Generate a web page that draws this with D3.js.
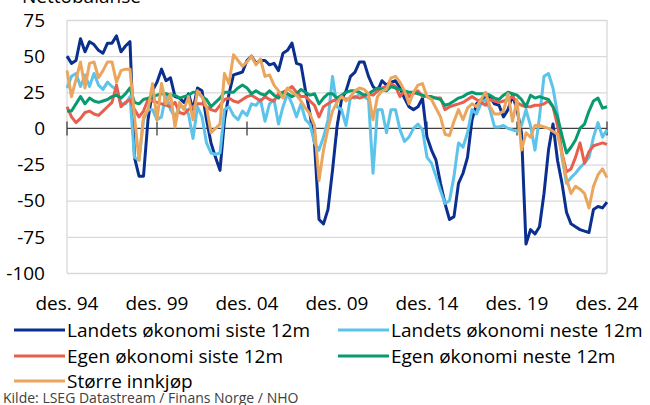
<!DOCTYPE html>
<html>
<head>
<meta charset="utf-8">
<script src="https://cdn.jsdelivr.net/npm/d3@7/dist/d3.min.js"></script>
<style>
  body { margin: 0; background: #fff; }
  text { font-family: "Open Sans", sans-serif; fill: #000; }
</style>
</head>
<body>
<svg id="chart" width="650" height="405"></svg>
<script>
// quarterly values, des. 94 .. des. 24
var landetsSiste = [
  50,45,47,62,53,60,58,54,52,59,59,64,53,57,60,
  -20,-33,-33,6,26,32,41,33,35,22,
  21,18,24,13,28,26,6,-10,-20,-29,
  6,24,37,38,39,47,50,45,47,47,
  44,45,40,52,54,59,45,44,26,10,
  -10,-63,-66,-56,-29,1,20,26,36,39,
  46,46,36,29,26,33,30,32,33,28,
  21,15,13,15,21,-6,-15,-22,-38,-52,
  -63,-61,-38,-31,-20,6,17,20,22,22,
  17,16,8,13,23,13,-3,-80,-70,-73,
  -68,-45,-15,3,-22,-38,-58,-66,-68,-70,
  -71,-72,-56,-54,-55,-51
];
var landetsNeste = [
  28,36,38,29,37,29,38,30,27,32,29,27,17,17,22,
  -20,-22,6,13,13,6,8,24,13,8,
  15,15,10,-7,15,8,-10,-17,-18,-17,
  13,15,9,6,12,9,17,16,20,5,
  17,20,3,15,24,17,8,17,6,3,
  -10,-15,-6,6,36,15,13,2,22,21,
  24,22,20,-31,13,13,-3,13,13,-1,
  -9,-6,0,3,-1,-20,-24,-33,-43,-52,
  -50,-33,-10,-13,-3,13,10,17,20,13,
  1,1,2,0,-1,-2,2,13,2,-15,
  8,36,38,28,10,-20,-38,-34,-31,-27,
  -24,-20,-6,4,-6,-1
];
var egenSiste = [
  15,8,4,7,11,12,10,9,12,15,18,30,15,18,20,
  13,8,12,20,19,18,17,16,15,18,
  11,10,13,15,17,17,15,13,12,16,
  20,21,19,18,20,22,23,21,19,22,
  20,19,24,25,27,29,25,22,22,19,
  16,8,15,17,19,20,22,20,21,22,
  21,22,24,23,26,28,29,31,29,22,
  26,22,24,26,22,22,21,21,21,13,
  15,16,17,18,20,22,20,18,16,20,
  19,18,19,20,22,18,16,15,15,16,
  16,17,19,15,2,-17,-30,-28,-20,-10,
  -24,-16,-12,-11,-10,-11
];
var egenNeste = [
  12,12,17,22,17,21,19,18,19,20,22,23,21,24,28,
  18,17,20,21,22,23,24,24,23,23,
  21,22,23,25,25,22,20,15,18,21,
  25,25,25,28,30,28,24,26,24,23,
  26,23,21,25,24,22,24,27,25,23,
  24,17,21,24,24,21,23,25,26,26,
  25,23,24,26,28,27,26,29,28,27,
  26,25,25,24,23,22,22,21,20,16,
  17,19,21,22,24,25,24,24,24,23,
  21,20,23,25,24,23,20,15,23,21,
  22,21,20,15,8,-5,-17,-13,-8,0,
  3,12,19,21,14,15
];
var storreInnkjop = [
  40,22,34,46,28,45,46,35,40,46,46,32,40,41,41,
  8,-22,8,13,31,6,31,17,24,1,
  18,13,22,6,26,22,15,-3,0,3,
  38,31,51,47,43,46,50,44,48,36,
  37,30,26,21,28,25,23,19,14,10,
  2,-36,-15,0,12,18,22,19,22,26,
  28,27,24,6,22,26,27,35,36,32,
  26,17,25,30,31,22,20,14,8,-4,
  -5,5,13,6,14,17,15,20,25,15,
  10,10,12,24,5,20,-15,-3,-6,2,
  2,1,0,-2,-4,-18,-35,-45,-40,-42,
  -45,-55,-40,-32,-28,-34
];

var xTickIndex = [0, 20, 40, 60, 80, 100, 120];
var xTickLabels = ["des. 94", "des. 99", "des. 04", "des. 09", "des. 14", "des. 19", "des. 24"];
var yTicks = [-100, -75, -50, -25, 0, 25, 50, 75];

var series = [
  {name: "Landets økonomi siste 12m", values: landetsSiste, color: "#0b2f8e"},
  {name: "Landets økonomi neste 12m", values: landetsNeste, color: "#5cc3ea"},
  {name: "Egen økonomi siste 12m", values: egenSiste, color: "#e8604d"},
  {name: "Egen økonomi neste 12m", values: egenNeste, color: "#089b6f"},
  {name: "Større innkjøp", values: storreInnkjop, color: "#eba65d"}
];

(function() {
  var svg = d3.select("#chart");
  var plot = {left: 67, right: 607, top: 20, bottom: 273};

  var x = d3.scaleLinear().domain([0, landetsSiste.length - 1]).range([plot.left, plot.right]);
  var y = d3.scaleLinear().domain([-100, 75]).range([plot.bottom, plot.top]);

  // cut-off unit label at the very top
  svg.append("text").attr("x", 22).attr("y", 3).style("font-size", "19px").text("Nettobalanse");

  // gridlines
  svg.append("g")
    .attr("transform", "translate(" + plot.left + ",0)")
    .call(d3.axisLeft(y).tickValues(yTicks.filter(d => d !== 0)).tickSize(-(plot.right - plot.left)).tickFormat(""))
    .call(g => g.select(".domain").remove())
    .call(g => g.selectAll("line").attr("stroke", "#d9d9d9").attr("stroke-width", 1.3));

  // plot border sides
  [plot.left, plot.right].forEach(function(px) {
    svg.append("line").attr("x1", px).attr("x2", px).attr("y1", plot.top).attr("y2", plot.bottom)
      .attr("stroke", "#d9d9d9").attr("stroke-width", 1.3);
  });

  // y labels
  svg.append("g").selectAll("text")
    .data(yTicks).enter().append("text")
      .attr("x", 45)
      .attr("y", d => y(d))
      .attr("dy", "0.35em")
      .attr("text-anchor", "end")
      .style("font-size", "19px")
      .text(d => d);

  // zero axis with tick marks
  var zero = svg.append("g").attr("transform", "translate(0," + y(0) + ")");
  zero.append("line").attr("x1", plot.left).attr("x2", plot.right).attr("stroke", "#404040").attr("stroke-width", 1.3);
  zero.selectAll("line.tick")
    .data(xTickIndex).enter().append("line")
      .attr("class", "tick")
      .attr("x1", d => x(d)).attr("x2", d => x(d))
      .attr("y1", -7).attr("y2", 7)
      .attr("stroke", "#404040").attr("stroke-width", 1.3);

  // x labels
  svg.append("g").selectAll("text")
    .data(xTickIndex).enter().append("text")
      .attr("x", d => x(d))
      .attr("y", 303)
      .attr("dy", "0.35em")
      .attr("text-anchor", "middle")
      .style("font-size", "19px")
      .text((d, i) => xTickLabels[i]);

  // lines
  var line = d3.line()
    .x((d, i) => x(i))
    .y(d => y(d));

  svg.append("g").selectAll("path")
    .data(series).enter().append("path")
      .attr("fill", "none")
      .attr("stroke", d => d.color)
      .attr("stroke-width", 3)
      .attr("stroke-linejoin", "round")
      .attr("d", d => line(d.values));

  // legend
  var legendPos = [[14, 330], [338, 330], [14, 356], [338, 356], [14, 381]];
  var legend = svg.append("g").selectAll("g")
    .data(series).enter().append("g")
      .attr("transform", (d, i) => "translate(" + legendPos[i][0] + "," + legendPos[i][1] + ")");
  legend.append("line")
    .attr("x1", 0).attr("x2", 51)
    .attr("stroke", d => d.color).attr("stroke-width", 3);
  legend.append("text")
    .attr("x", 53)
    .attr("dy", "0.35em")
    .style("font-size", "19px")
    .text(d => d.name);

  // source
  svg.append("text")
    .attr("x", 3).attr("y", 398).attr("dy", "0.35em")
    .style("font-size", "14px").style("fill", "#404040")
    .text("Kilde: LSEG Datastream / Finans Norge / NHO");
})();
</script>
</body>
</html>
